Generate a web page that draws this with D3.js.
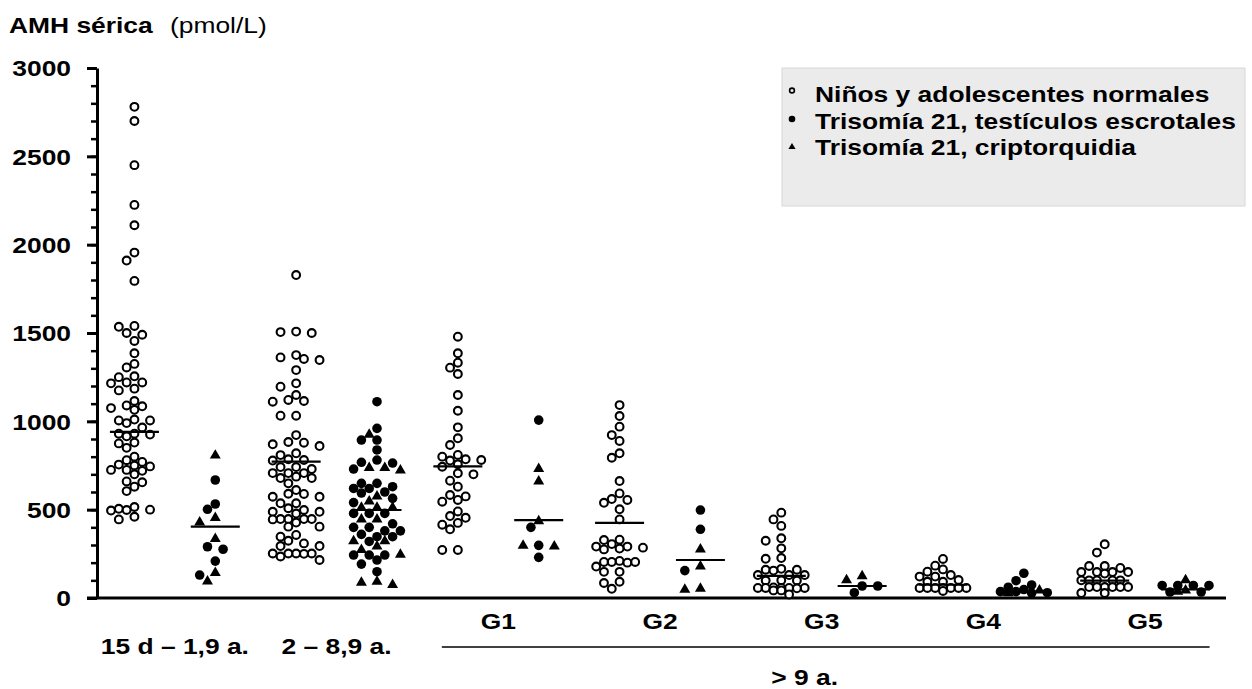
<!DOCTYPE html>
<html>
<head>
<meta charset="utf-8">
<script src="https://cdn.jsdelivr.net/npm/d3@7"></script>
<style>
  body { margin: 0; background: #fff; }
  svg { display: block; font-family: "Liberation Sans", Arial, sans-serif; }
</style>
</head>
<body>
<div id="chart"></div>
<script>
// Age groups (one normal column and one trisomy 21 column each)
const groups = ["15 d – 1,9 a.", "2 – 8,9 a.", "G1", "G2", "G3", "G4", "G5"];

// Normal boys and adolescents (open circles)
const normales = [
  [2780, 2700, 2450, 2225, 2110, 1955, 1910, 1795, 1540, 1535, 1500, 1490, 1455, 1385, 1325, 1305,
   1255, 1250, 1220, 1220, 1215, 1185, 1175, 1115, 1090, 1085, 1075, 1065, 1010, 1005, 1005, 990,
   965, 930, 930, 925, 915, 880, 875, 850, 800, 780, 770, 755, 750, 745, 725, 725, 720, 700, 660,
   655, 630, 605, 515, 505, 500, 498, 495, 460, 445],
  [1828, 1508, 1505, 1500, 1375, 1362, 1353, 1347, 1290, 1215, 1196, 1149, 1121, 1115, 1111, 1032,
   1032, 922, 883, 879, 870, 860, 819, 809, 785, 781, 778, 741, 741, 730, 707, 707, 707, 687, 679,
   679, 649, 611, 590, 589, 573, 573, 536, 536, 508, 498, 488, 488, 478, 447, 447, 447, 447, 445,
   427, 404, 404, 357, 347, 324, 309, 294, 294, 252, 252, 252, 252, 250, 235, 215],
  [1479, 1385, 1332, 1304, 1268, 1149, 1060, 966, 904, 866, 810, 800, 785, 781, 778, 757, 743, 706,
   700, 664, 630, 583, 575, 555, 545, 490, 464, 454, 425, 415, 389, 272, 272],
  [1092, 1030, 970, 922, 889, 819, 794, 662, 592, 560, 555, 539, 502, 445, 330, 328, 305, 291, 291,
   285, 280, 275, 210, 204, 200, 204, 204, 178, 148, 148, 92, 85, 52],
  [483, 445, 408, 338, 324, 281, 226, 222, 165, 160, 160, 155, 130, 130, 130, 100, 99, 99, 60, 57,
   57, 57, 57, 55, 57, 43, 43, 20],
  [221, 183, 162, 149, 130, 121, 121, 102, 92, 92, 57, 57, 57, 57, 57, 57, 57, 40],
  [304, 257, 181, 181, 170, 147, 147, 147, 147, 138, 100, 100, 100, 100, 100, 62, 62, 62, 62, 62,
   62, 28, 28]
];

// Trisomy 21, scrotal testes (filled circles)
const t21Escrotales = [
  [668, 532, 502, 290, 276, 209, 130],
  [1111, 960, 894, 894, 838, 781, 768, 764, 730, 649, 649, 630, 620, 620, 600, 594, 564, 540, 479,
   479, 479, 420, 400, 400, 380, 380, 360, 347, 347, 320, 243, 243, 243, 215, 192, 149],
  [1007, 400, 298, 230],
  [498, 389, 155],
  [68, 68, 30],
  [140, 98, 74, 61, 48, 36, 36, 30, 28],
  [71, 71, 71, 71, 34, 34]
];

// Trisomy 21, cryptorchidism (triangles)
const t21Criptorquidia = [
  [804, 451, 426, 332, 140, 92],
  [922, 734, 734, 720, 573, 545, 509, 509, 509, 442, 442, 319, 319, 290, 270, 243, 90, 85, 72],
  [728, 658, 432, 294, 290],
  [272, 177, 51, 45],
  [121, 98],
  [40, 25],
  [98, 40, 34]
];

// Medians (horizontal bars)
const medianNormales = [940, 772, 745, 425, 125, 75, 98];
const medianT21 = [404, 498, 441, 215, 68, 36, 49];

const yTicks = [0, 500, 1000, 1500, 2000, 2500, 3000];
const legendLabels = ["Niños y adolescentes normales", "Trisomía 21, testículos escrotales", "Trisomía 21, criptorquidia"];

const width = 1252, height = 689;
const SX = 1.2; // the original text is drawn horizontally stretched

const svg = d3.select("#chart").append("svg")
  .attr("width", width)
  .attr("height", height);

const columns = groups.flatMap(g => [g + "|N", g + "|T"]);
const x = d3.scalePoint().domain(columns).range([94, 1226]).padding(0.5);
const y = d3.scaleLinear().domain([0, 3000]).range([598, 68]);

function label(px, py, str, weight, anchor) {
  return svg.append("text")
    .attr("transform", `translate(${px},${py}) scale(${SX},1)`)
    .attr("font-size", 22)
    .attr("font-weight", weight || "bold")
    .attr("text-anchor", anchor || "start")
    .attr("fill", "#000")
    .text(str);
}

// Title
label(9, 33, "AMH sérica");
label(170, 33, "(pmol/L)", "normal");

// Minor y ticks
svg.append("g")
  .attr("transform", "translate(97,0)")
  .call(d3.axisLeft(y).tickValues(d3.range(0, 3001, 100)).tickSize(6).tickFormat(""))
  .call(g => g.select(".domain").remove())
  .call(g => g.selectAll("line").attr("stroke-width", 2.5));

// Major y ticks and labels
const yAxis = svg.append("g")
  .attr("transform", "translate(97,0)")
  .call(d3.axisLeft(y).tickValues(yTicks).tickFormat(d3.format("d")).tickSize(10).tickSizeOuter(0));
yAxis.select(".domain").attr("stroke-width", 3);
yAxis.selectAll("line").attr("stroke-width", 3);
yAxis.selectAll("text")
  .attr("x", null)
  .attr("dy", "0.36em")
  .attr("transform", `translate(-26,0) scale(${SX},1)`)
  .attr("font-size", 22)
  .attr("font-weight", "bold")
  .attr("font-family", "Liberation Sans, Arial, sans-serif")
  .attr("fill", "#000");

// x axis line
svg.append("line")
  .attr("x1", 87).attr("x2", x.range()[1])
  .attr("y1", y(0)).attr("y2", y(0))
  .attr("stroke", "#000").attr("stroke-width", 3);

// Horizontal dodge: spread points of equal value across slots
function dodge(vals, step, maxSlot, minDist) {
  const order = vals.map((d, i) => i).sort((a, b) => vals[b] - vals[a]);
  const cands = [0];
  for (let k = 1; k <= maxSlot; k++) cands.push(-k, k);
  const placed = [];
  const offs = new Array(vals.length);
  order.forEach(i => {
    const py = y(vals[i]);
    let best = 0, bestD = -1;
    for (const c of cands) {
      const px = c * step;
      let dmin = Infinity;
      placed.forEach(p => { dmin = Math.min(dmin, Math.hypot(p.x - px, p.y - py)); });
      if (dmin >= minDist) { best = px; break; }
      if (dmin > bestD) { bestD = dmin; best = px; }
    }
    placed.push({ x: best, y: py });
    offs[i] = best;
  });
  return offs;
}

const points = [];
groups.forEach((g, gi) => {
  const nv = normales[gi];
  const no = dodge(nv, 7.8, 3, 8.5);
  nv.forEach((v, i) => points.push({ col: g + "|N", v, dx: no[i], type: "open" }));

  const tv = t21Escrotales[gi].map(v => ({ v, type: "dot" }))
    .concat(t21Criptorquidia[gi].map(v => ({ v, type: "tri" })));
  const to = dodge(tv.map(d => d.v), 7.8, 3, 9);
  tv.forEach((d, i) => points.push({ col: g + "|T", v: d.v, dx: to[i], type: d.type }));
});

const marks = svg.append("g");
marks.selectAll("circle.open")
  .data(points.filter(d => d.type === "open"))
  .join("circle")
  .attr("class", "open")
  .attr("cx", d => x(d.col) + d.dx)
  .attr("cy", d => y(d.v))
  .attr("r", 3.9)
  .attr("fill", "#fff")
  .attr("stroke", "#000")
  .attr("stroke-width", 2.1);

marks.selectAll("circle.dot")
  .data(points.filter(d => d.type === "dot"))
  .join("circle")
  .attr("class", "dot")
  .attr("cx", d => x(d.col) + d.dx)
  .attr("cy", d => y(d.v))
  .attr("r", 4.8)
  .attr("fill", "#000");

const tri = d3.symbol().type(d3.symbolTriangle).size(52);
marks.selectAll("path.tri")
  .data(points.filter(d => d.type === "tri"))
  .join("path")
  .attr("class", "tri")
  .attr("d", tri)
  .attr("transform", d => `translate(${x(d.col) + d.dx},${y(d.v) - 0.5})`)
  .attr("fill", "#000");

// Median bars
const medians = groups.flatMap((g, gi) => [
  { col: g + "|N", v: medianNormales[gi] },
  { col: g + "|T", v: medianT21[gi] }
]);
svg.append("g").selectAll("line")
  .data(medians)
  .join("line")
  .attr("x1", d => x(d.col) - 24.5)
  .attr("x2", d => x(d.col) + 24.5)
  .attr("y1", d => y(d.v))
  .attr("y2", d => y(d.v))
  .attr("stroke", "#000")
  .attr("stroke-width", 2.2);

// Group labels
groups.forEach((g, gi) => {
  const cx = (x(g + "|N") + x(g + "|T")) / 2;
  label(cx, gi < 2 ? 654 : 629, g, "bold", "middle");
});

// Bracket for pubertal stages
svg.append("line")
  .attr("x1", x("G1|N") - 16).attr("x2", x("G5|T") + 24)
  .attr("y1", 647).attr("y2", 647)
  .attr("stroke", "#000").attr("stroke-width", 1.5);
label((x("G1|N") + x("G5|T")) / 2 - 17, 685, "> 9 a.", "bold", "middle");

// Legend
const lg = svg.append("g");
lg.append("rect")
  .attr("x", 782).attr("y", 68)
  .attr("width", 463).attr("height", 138)
  .attr("fill", "#ebebeb")
  .attr("stroke", "#d8d8d8");
const rowY = [101.5, 129, 155];
legendLabels.forEach((t, i) => label(815, rowY[i], t));
lg.append("circle").attr("cx", 792).attr("cy", rowY[0] - 11).attr("r", 2.4)
  .attr("fill", "none").attr("stroke", "#000").attr("stroke-width", 1.6);
lg.append("circle").attr("cx", 792).attr("cy", rowY[1] - 10).attr("r", 3.3).attr("fill", "#000");
lg.append("path").attr("d", d3.symbol().type(d3.symbolTriangle).size(22))
  .attr("transform", `translate(792,${rowY[2] - 8})`).attr("fill", "#000");
</script>
</body>
</html>
